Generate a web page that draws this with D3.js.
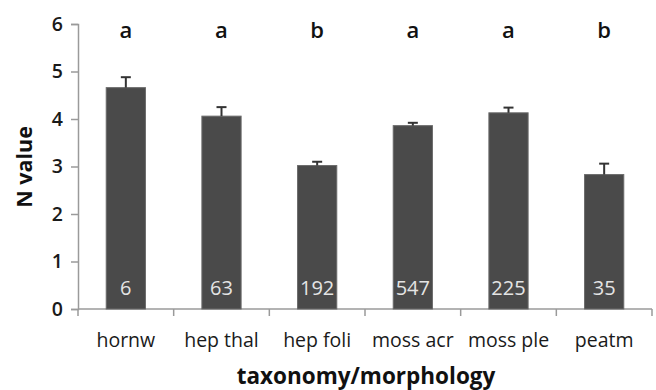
<!DOCTYPE html>
<html>
<head>
<meta charset="utf-8">
<script src="https://cdn.jsdelivr.net/npm/d3@7"></script>
<style>
  body { margin: 0; background: #fff; }
  svg { font-family: "Open Sans", sans-serif; }
</style>
</head>
<body>
<svg id="chart" width="656" height="390"></svg>
<script>
// data
var categories = ["hornw", "hep thal", "hep foli", "moss acr", "moss ple", "peatm"]
var nValues = [4.66, 4.06, 3.02, 3.86, 4.13, 2.83]
var errors = [0.22, 0.19, 0.08, 0.06, 0.11, 0.23]
var counts = ["6", "63", "192", "547", "225", "35"]
var groups = ["a", "a", "b", "a", "a", "b"]
var yTicks = [0, 1, 2, 3, 4, 5, 6]

var svg = d3.select("#chart")
var margin = {top: 24, left: 78, bottom: 81, right: 4}
var width = 656 - margin.left - margin.right
var height = 390 - margin.top - margin.bottom

var g = svg.append("g")
  .attr("transform", "translate(" + margin.left + "," + margin.top + ")")

var xScale = d3.scaleBand().domain(categories).range([0, width]).padding(0)
var yScale = d3.scaleLinear().domain([0, 6]).range([height, 0])

var barW = xScale.bandwidth() * 0.41

// y axis
var yAxis = g.append("g")
  .call(d3.axisLeft(yScale).tickValues(yTicks).tickSize(7).tickPadding(8).tickFormat(d3.format("d")))
yAxis.selectAll("path, line").attr("stroke", "#9a9a9a").attr("stroke-width", 1.5)
yAxis.selectAll("text")
  .attr("font-size", 19.5).attr("font-weight", 600).attr("fill", "#1a1a1a")
  .attr("font-family", "'Open Sans', sans-serif")

// x axis line + ticks between categories
var xAxis = g.append("g").attr("transform", "translate(0," + height + ")")
xAxis.append("line")
  .attr("x1", 0).attr("x2", width)
  .attr("stroke", "#9a9a9a").attr("stroke-width", 1.5)
var edges = categories.map(function(c) { return xScale(c) }).concat([width])
xAxis.selectAll(".xt").data(edges).enter().append("line")
  .attr("x1", function(d) { return d }).attr("x2", function(d) { return d })
  .attr("y1", 0).attr("y2", 7)
  .attr("stroke", "#9a9a9a").attr("stroke-width", 1.5)
xAxis.selectAll(".xl").data(categories).enter().append("text")
  .attr("x", function(d) { return xScale(d) + xScale.bandwidth() / 2 })
  .attr("y", 38)
  .attr("text-anchor", "middle")
  .attr("font-size", 19.5)
  .attr("fill", "#1a1a1a")
  .text(function(d) { return d })

// bars
var bars = g.selectAll(".bar").data(categories).enter().append("g")

bars.append("rect")
  .attr("x", function(d) { return xScale(d) + (xScale.bandwidth() - barW) / 2 })
  .attr("y", function(d, i) { return yScale(nValues[i]) })
  .attr("width", barW)
  .attr("height", function(d, i) { return height - yScale(nValues[i]) })
  .attr("fill", "#4a4a4a")
  .attr("stroke", "#6a6a6a")
  .attr("stroke-width", 1)

// error bars
bars.append("line")
  .attr("x1", function(d) { return xScale(d) + xScale.bandwidth() / 2 })
  .attr("x2", function(d) { return xScale(d) + xScale.bandwidth() / 2 })
  .attr("y1", function(d, i) { return yScale(nValues[i]) })
  .attr("y2", function(d, i) { return yScale(nValues[i] + errors[i]) })
  .attr("stroke", "#333").attr("stroke-width", 2)
bars.append("line")
  .attr("x1", function(d) { return xScale(d) + xScale.bandwidth() / 2 - 5 })
  .attr("x2", function(d) { return xScale(d) + xScale.bandwidth() / 2 + 5 })
  .attr("y1", function(d, i) { return yScale(nValues[i] + errors[i]) })
  .attr("y2", function(d, i) { return yScale(nValues[i] + errors[i]) })
  .attr("stroke", "#333").attr("stroke-width", 2)

// sample sizes inside bars
bars.append("text")
  .attr("x", function(d) { return xScale(d) + xScale.bandwidth() / 2 })
  .attr("y", yScale(0) - 14)
  .attr("text-anchor", "middle")
  .attr("font-size", 20)
  .attr("fill", "#e4e4e4")
  .text(function(d, i) { return counts[i] })

// significance letters
bars.append("text")
  .attr("x", function(d) { return xScale(d) + xScale.bandwidth() / 2 })
  .attr("y", yScale(6) + 14)
  .attr("text-anchor", "middle")
  .attr("font-size", 22)
  .attr("font-weight", 600)
  .attr("fill", "#111")
  .text(function(d, i) { return groups[i] })

// axis titles
svg.append("text")
  .attr("transform", "translate(" + [32, 167] + ")rotate(-90)")
  .attr("text-anchor", "middle")
  .attr("font-size", 21.5)
  .attr("font-weight", 700)
  .attr("fill", "#111")
  .text("N value")

svg.append("text")
  .attr("x", 366).attr("y", 384)
  .attr("text-anchor", "middle")
  .attr("font-size", 22.5)
  .attr("font-weight", 700)
  .attr("fill", "#111")
  .text("taxonomy/morphology")
</script>
</body>
</html>
